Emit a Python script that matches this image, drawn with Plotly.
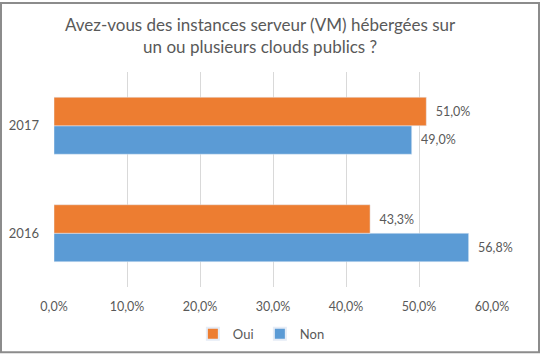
import plotly.graph_objects as go

categories = ["2016", "2017"]
oui = [43.3, 51.0]
non = [56.8, 49.0]
tick_vals = [0, 10, 20, 30, 40, 50, 60]
tick_text = ["0,0%", "10,0%", "20,0%", "30,0%", "40,0%", "50,0%", "60,0%"]

W, H = 540, 361
L, R, T, B = 54, 48, 72, 68
pw, ph = W - L - R, H - T - B

txt = "#595959"
font = "Lato, 'Open Sans', sans-serif"
lbl = "\u00a0\u00a0%{x:.1f}%"

fig = go.Figure()
fig.add_trace(go.Bar(y=categories, x=non, orientation="h", name="Non",
                     marker_color="#5B9BD5", texttemplate=lbl,
                     textposition="outside", cliponaxis=False,
                     textfont=dict(size=12.5, color=txt, family=font)))
fig.add_trace(go.Bar(y=categories, x=oui, orientation="h", name="Oui",
                     marker_color="#ED7D31", texttemplate=lbl,
                     textposition="outside", cliponaxis=False,
                     textfont=dict(size=12.5, color=txt, family=font)))

fig.update_layout(
    width=W, height=H,
    margin=dict(l=L, r=R, t=T, b=B),
    paper_bgcolor="white", plot_bgcolor="white",
    separators=", ",
    barmode="group", bargap=0.47, bargroupgap=0,
    font=dict(family=font, color=txt, size=12),
    xaxis=dict(range=[0, 60], tickvals=tick_vals, ticktext=tick_text,
               showgrid=True, gridcolor="#D9D9D9", gridwidth=1, zeroline=False,
               showline=False, ticks="", ticklabelstandoff=10, automargin=False,
               tickfont=dict(size=12.5, color=txt), fixedrange=True),
    yaxis=dict(showgrid=False, zeroline=False, showline=False, ticks="",
               ticklabelstandoff=14, automargin=False, fixedrange=True,
               tickfont=dict(size=13, color=txt)),
    legend=dict(orientation="h", x=0.47, xanchor="center", y=-(341 - 293) / ph, yanchor="middle",
                traceorder="reversed", font=dict(size=13, color=txt),
                itemwidth=30, itemsizing="constant",
                entrywidth=22, entrywidthmode="pixels"),
    showlegend=True,
    annotations=[dict(text="Avez-vous des instances serveur (VM) hébergées sur<br>un ou plusieurs clouds publics ?",
                      xref="paper", yref="paper", x=(260 - L) / pw, xanchor="center",
                      y=1 + (T - 10) / ph, yanchor="top", showarrow=False,
                      font=dict(size=17, color=txt, family=font))],
    shapes=[dict(type="rect", xref="paper", yref="paper",
                 x0=(1 - L) / pw, x1=(W - 1 - L) / pw,
                 y0=-(B - 1) / ph, y1=1 + (T - 1) / ph,
                 line=dict(color="#8C8C8C", width=2), fillcolor="rgba(0,0,0,0)",
                 layer="below")],
)

fig.write_html("out.html", config={"displayModeBar": False, "responsive": False},
               post_script="document.body.style.margin='0';document.body.style.padding='0';"
                           "document.documentElement.style.overflow='hidden';")
